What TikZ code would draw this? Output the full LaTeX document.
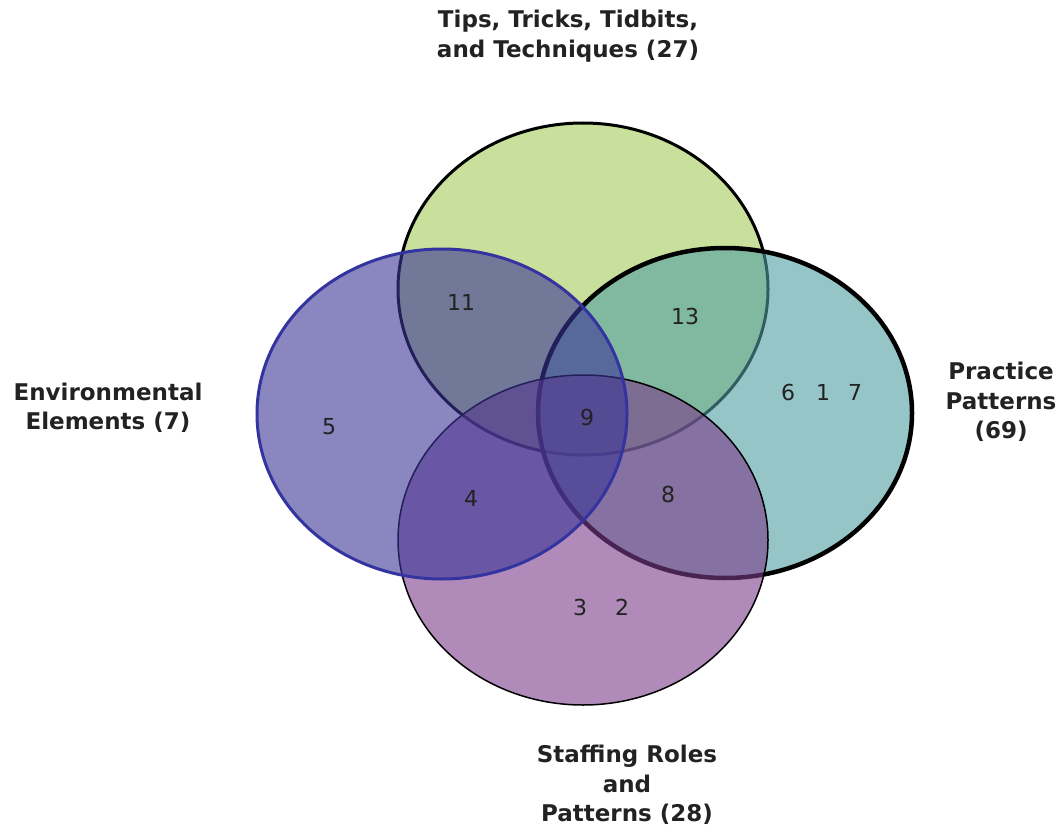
\documentclass[tikz,border=0pt]{standalone}
\usepackage{fontspec}
\setmainfont{DejaVu Sans}
\definecolor{tipgreen}{RGB}{200,224,156}
\definecolor{pracfill}{RGB}{80,158,163}
\definecolor{stafffill}{RGB}{123,60,137}
\definecolor{envfill}{RGB}{58,53,150}
\definecolor{envline}{RGB}{52,52,160}
\definecolor{txt}{RGB}{34,34,34}
\begin{document}
\begin{tikzpicture}[x=1pt,y=-1pt,
    set/.style={fill opacity=0.6},
    num/.style={text=txt,font=\fontsize{22}{26}\selectfont},
    lbl/.style={text=txt,align=center,font=\bfseries\fontsize{23}{29.5}\selectfont}]
    \useasboundingbox (0,0) rectangle (1064,826);

    % the four sets
    \draw[line width=3pt,fill=tipgreen] (583,289) ellipse [x radius=185pt,y radius=166pt];
    \draw[set,line width=4.5pt,fill=pracfill] (725,413) ellipse [x radius=187pt,y radius=165pt];
    \draw[set,line width=1.5pt,fill=stafffill] (583,540) ellipse [x radius=185pt,y radius=165pt];
    \draw[set,line width=3pt,draw=envline,fill=envfill] (442,414) ellipse [x radius=185pt,y radius=165pt];

    % set names
    \node[lbl] (tips) at (568,36) {Tips, Tricks, Tidbits,\\and Techniques (27)};
    \node[lbl] (env) at (108,408) {Environmental\\Elements (7)};
    \node[lbl] (prac) at (1001,402) {Practice\\Patterns\\(69)};
    \node[lbl] (staff) at (627,785) {Staffing Roles\\and\\Patterns (28)};

    % counts
    \node[num] (n11) at (461,302) {11};
    \node[num] (n13) at (685,316) {13};
    \node[num] (n5) at (329,427) {5};
    \node[num] (n9) at (587,417) {9};
    \node[num] (n6) at (788,392) {6};
    \node[num] (n1) at (823,392) {1};
    \node[num] (n7) at (855,392) {7};
    \node[num] (n4) at (471,498) {4};
    \node[num] (n8) at (668,494) {8};
    \node[num] (n3) at (580,607) {3};
    \node[num] (n2) at (622,607) {2};

\end{tikzpicture}
\end{document}
